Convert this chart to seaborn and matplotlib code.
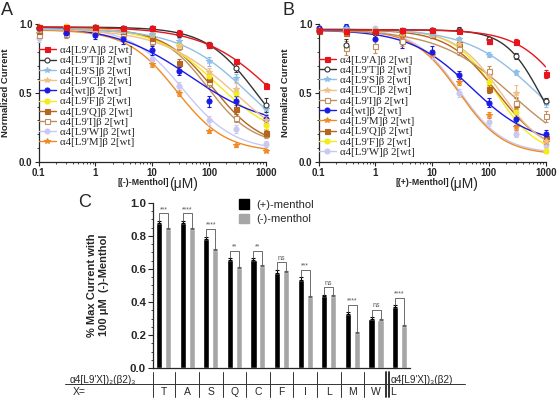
import numpy as np
import pandas as pd
import matplotlib
matplotlib.use("Agg")
import matplotlib.pyplot as plt
import matplotlib.transforms as mtransforms
from matplotlib.lines import Line2D
from matplotlib.patches import Patch
from matplotlib.ticker import MultipleLocator, LogLocator, NullFormatter
import seaborn as sns

CONC = [0.1, 0.3, 1, 3, 10, 30, 100, 300, 1000]

# ---- panel A: (-)-menthol, mean normalized current per concentration
A_L9A = [0.98, 0.98, 0.98, 0.97, 0.97, 0.94, 0.85, 0.73, 0.55]
A_L9T = [0.97, 0.97, 0.98, 0.97, 0.97, 0.93, 0.85, 0.68, 0.41]
A_L9S = [0.96, 0.97, 0.97, 0.95, 0.93, 0.88, 0.73, 0.61, 0.38]
A_L9C = [0.96, 0.97, 0.96, 0.95, 0.92, 0.84, 0.65, 0.53, 0.30]
A_WT = [0.97, 0.94, 0.92, 0.89, 0.81, 0.66, 0.44, 0.44, 0.31]
A_L9F = [0.98, 0.99, 0.98, 0.96, 0.93, 0.85, 0.62, 0.50, 0.27]
A_L9Q = [0.95, 0.95, 0.96, 0.95, 0.90, 0.72, 0.60, 0.38, 0.21]
A_L9I = [0.92, 0.93, 0.95, 0.94, 0.88, 0.84, 0.58, 0.32, 0.20]
A_L9W = [0.90, 0.95, 0.94, 0.90, 0.75, 0.55, 0.30, 0.24, 0.13]
A_L9M = [0.94, 0.93, 0.93, 0.90, 0.71, 0.50, 0.22, 0.12, 0.08]

A_L9A_ERR = [0.01, 0.01, 0.01, 0.01, 0.01, 0.02, 0.02, 0.02, 0.02]
A_L9T_ERR = [0.01, 0.01, 0.01, 0.01, 0.01, 0.02, 0.02, 0.03, 0.05]
A_L9S_ERR = [0.01, 0.01, 0.01, 0.01, 0.02, 0.02, 0.03, 0.03, 0.03]
A_L9C_ERR = [0.01, 0.01, 0.01, 0.01, 0.02, 0.02, 0.03, 0.04, 0.03]
A_WT_ERR = [0.02, 0.03, 0.03, 0.03, 0.03, 0.03, 0.04, 0.04, 0.03]
A_L9F_ERR = [0.01, 0.01, 0.01, 0.01, 0.02, 0.02, 0.03, 0.03, 0.03]
A_L9Q_ERR = [0.02, 0.02, 0.02, 0.02, 0.03, 0.03, 0.04, 0.03, 0.03]
A_L9I_ERR = [0.03, 0.03, 0.02, 0.02, 0.03, 0.03, 0.04, 0.03, 0.03]
A_L9W_ERR = [0.03, 0.02, 0.02, 0.02, 0.03, 0.03, 0.03, 0.03, 0.02]
A_L9M_ERR = [0.02, 0.02, 0.02, 0.02, 0.02, 0.02, 0.01, 0.01, 0.01]

A_ORDER = ["A", "T", "S", "C", "wt", "F", "Q", "I", "W", "M"]
# Hill fit parameters
A_TOP = [0.98, 0.98, 0.97, 0.97, 0.99, 0.98, 0.97, 0.96, 0.98, 0.96]
A_BOTTOM = [0.0, 0.0, 0.0, 0.0, 0.25, 0.15, 0.10, 0.12, 0.08, 0.07]
A_IC50 = [1520, 710, 535, 312, 47, 139, 118, 95, 34.5, 26.8]
A_SLOPE = [0.69, 0.96, 0.70, 0.65, 0.65, 0.80, 1.0, 1.1, 0.95, 1.0]

# ---- panel B: (+)-menthol
B_L9A = [0.96, 0.95, 0.95, 0.96, 0.96, 0.95, 0.88, 0.87, 0.64]
B_L9T = [0.95, 0.85, 0.94, 0.95, 0.96, 0.96, 0.89, 0.77, 0.44]
B_L9S = [0.96, 0.97, 0.96, 0.96, 0.93, 0.89, 0.78, 0.65, 0.43]
B_L9C = [0.96, 0.96, 0.96, 0.94, 0.92, 0.86, 0.62, 0.50, 0.15]
B_L9I = [0.96, 0.83, 0.84, 0.88, 0.93, 0.82, 0.66, 0.43, 0.33]
B_WT = [0.97, 0.98, 0.89, 0.87, 0.80, 0.63, 0.43, 0.31, 0.20]
B_L9M = [0.95, 0.94, 0.94, 0.92, 0.78, 0.58, 0.34, 0.25, 0.14]
B_L9Q = [0.95, 0.94, 0.95, 0.94, 0.92, 0.86, 0.53, 0.42, 0.17]
B_L9F = [0.97, 0.97, 0.96, 0.95, 0.92, 0.86, 0.58, 0.36, 0.08]
B_L9W = [0.95, 0.96, 0.97, 0.95, 0.78, 0.50, 0.29, 0.20, 0.12]

B_L9A_ERR = [0.01, 0.01, 0.01, 0.01, 0.01, 0.01, 0.02, 0.02, 0.03]
B_L9T_ERR = [0.01, 0.04, 0.02, 0.01, 0.01, 0.02, 0.02, 0.02, 0.02]
B_L9S_ERR = [0.01, 0.01, 0.01, 0.01, 0.02, 0.02, 0.02, 0.02, 0.03]
B_L9C_ERR = [0.01, 0.01, 0.01, 0.02, 0.02, 0.03, 0.04, 0.06, 0.03]
B_L9I_ERR = [0.02, 0.05, 0.05, 0.04, 0.03, 0.04, 0.04, 0.04, 0.04]
B_WT_ERR = [0.02, 0.02, 0.04, 0.04, 0.04, 0.03, 0.03, 0.04, 0.03]
B_L9M_ERR = [0.01, 0.01, 0.01, 0.02, 0.02, 0.02, 0.02, 0.02, 0.02]
B_L9Q_ERR = [0.01, 0.01, 0.01, 0.02, 0.02, 0.03, 0.03, 0.04, 0.03]
B_L9F_ERR = [0.01, 0.01, 0.01, 0.01, 0.02, 0.02, 0.03, 0.03, 0.02]
B_L9W_ERR = [0.01, 0.01, 0.01, 0.02, 0.03, 0.03, 0.03, 0.02, 0.02]

B_ORDER = ["A", "T", "S", "C", "I", "wt", "M", "Q", "F", "W"]
B_TOP = [0.96, 0.96, 0.97, 0.96, 0.96, 0.96, 0.96, 0.96, 0.96, 0.97]
B_BOTTOM = [0.0, 0.0, 0.0, 0.05, 0.0, 0.12, 0.05, 0.05, 0.05, 0.06]
B_IC50 = [2560, 830, 770, 160, 265, 48.6, 29.5, 139, 132, 30]
B_SLOPE = [1.0, 1.37, 0.70, 1.1, 0.66, 0.80, 1.1, 1.0, 1.18, 1.1]

# ---- panel C: fraction of max current with 100 uM menthol
GROUPS = ["T", "A", "S", "Q", "C", "F", "I", "L", "M", "W", "L3"]
X_LETTERS = ["T", "A", "S", "Q", "C", "F", "I", "L", "M", "W", "L"]
PLUS = [0.88, 0.88, 0.78, 0.655, 0.655, 0.575, 0.535, 0.435, 0.33, 0.30, 0.37]
MINUS = [0.84, 0.84, 0.715, 0.605, 0.62, 0.58, 0.43, 0.435, 0.215, 0.29, 0.255]
PLUS_ERR = [0.010, 0.010, 0.015, 0.010, 0.010, 0.020, 0.015, 0.010, 0.010, 0.010, 0.010]
MINUS_ERR = [0.005, 0.005, 0.005, 0.005, 0.005, 0.005, 0.005, 0.005, 0.005, 0.005, 0.005]
SIG = ["***", "****", "****", "**", "**", "ns", "***", "ns", "****", "ns", "****"]

# colour, marker, filled
STYLE = {
    "A": ("#e8141c", "s", True),
    "T": ("#333333", "o", False),
    "S": ("#8fbfe8", "*", True),
    "C": ("#f0c08a", "*", True),
    "wt": ("#1a1ae6", "o", True),
    "F": ("#f2ec1a", "o", True),
    "Q": ("#b5651d", "s", True),
    "I": ("#c09060", "s", False),
    "W": ("#c8c8f2", "o", True),
    "M": ("#f08a24", "*", True),
}

SANS = ["Liberation Sans", "DejaVu Sans"]
SERIF = ["Liberation Serif", "DejaVu Serif"]


def series_label(name: str) -> str:
    if name == "wt":
        return "\u03b14[wt]\u03b2 2[wt]"
    return f"\u03b14[L9'{name}]\u03b2 2[wt]"


def marker_size(marker: str) -> float:
    return 4.2 if marker == "*" else 3.6


def dose_panel(ax, order, values, errors, tops, bottoms, ic50s, slopes, drug, legend_y):
    grid = np.logspace(-1, 3, 200)
    rows = []
    for name, top, bottom, ic50, slope in zip(order, tops, bottoms, ic50s, slopes):
        resp = bottom + (top - bottom) / (1 + (grid / ic50) ** slope)
        rows.append(pd.DataFrame({"conc": grid, "resp": resp, "series": name}))
    curves = pd.concat(rows, ignore_index=True)
    palette = {name: STYLE[name][0] for name in order}
    sns.lineplot(
        data=curves, x="conc", y="resp", hue="series", hue_order=order[::-1],
        palette=palette, linewidth=1.0, estimator=None, legend=False, ax=ax,
    )
    for name in order[::-1]:
        color, marker, filled = STYLE[name]
        ax.errorbar(
            CONC, values[name], yerr=errors[name], fmt=marker, color=color,
            mfc=color if filled else "white", mec=color, ms=marker_size(marker),
            mew=0.8, capsize=1.5, elinewidth=0.8, capthick=0.8, clip_on=False, zorder=3,
        )
    ax.set_xscale("log")
    ax.set_xlim(0.1, 1000)
    ax.set_ylim(0, 1.0)
    ax.set_xticks([0.1, 1, 10, 100, 1000], labels=["0.1", "1", "10", "100", "1000"])
    ax.xaxis.set_minor_locator(LogLocator(subs=np.arange(2, 10)))
    ax.xaxis.set_minor_formatter(NullFormatter())
    ax.set_yticks([0.0, 0.5, 1.0], labels=["0.0", "0.5", "1.0"])
    ax.yaxis.set_minor_locator(MultipleLocator(0.1))
    ax.tick_params(which="major", length=3, width=0.8, labelsize=7, pad=1.5)
    ax.tick_params(which="minor", length=1.5, width=0.6)
    for lab in ax.get_xticklabels() + ax.get_yticklabels():
        lab.set_fontweight("bold")
    ax.set_xlabel("")
    ax.set_ylabel("Normalized Current", fontsize=6.8, fontweight="bold")
    ax.yaxis.set_label_coords(-0.125, 0.5)
    ax.text(0.574, -0.155, f"[({drug})-Menthol]", transform=ax.transAxes, ha="right",
            va="center", fontsize=6.3, fontweight="bold")
    ax.text(0.574, -0.16, "(\u03bcM)", transform=ax.transAxes, ha="left",
            va="center", fontsize=10)
    handles = []
    for name in order:
        color, marker, filled = STYLE[name]
        handles.append(Line2D([0], [0], color=color, marker=marker, lw=1.0,
                              mfc=color if filled else "white", mec=color,
                              ms=marker_size(marker), mew=0.8))
    ax.legend(handles, [series_label(n) for n in order], loc="upper left",
              bbox_to_anchor=(0.0, legend_y), frameon=False, borderpad=0,
              borderaxespad=0, handlelength=1.6, handletextpad=0.4,
              labelspacing=0.06, prop={"family": SERIF, "size": 7.8})
    sns.despine(ax=ax)


sns.set_theme(style="ticks")
plt.rcParams["font.family"] = SANS
plt.rcParams["axes.linewidth"] = 0.9

fig = plt.figure(figsize=(5.58, 4.08), dpi=100)
ax_a = fig.add_axes([0.0694, 0.6037, 0.4068, 0.3368])
ax_b = fig.add_axes([0.5711, 0.6037, 0.4068, 0.3368])
ax_c = fig.add_axes([0.2742, 0.0973, 0.4606, 0.4059])

a_values = {"A": A_L9A, "T": A_L9T, "S": A_L9S, "C": A_L9C, "wt": A_WT,
            "F": A_L9F, "Q": A_L9Q, "I": A_L9I, "W": A_L9W, "M": A_L9M}
a_errors = {"A": A_L9A_ERR, "T": A_L9T_ERR, "S": A_L9S_ERR, "C": A_L9C_ERR, "wt": A_WT_ERR,
            "F": A_L9F_ERR, "Q": A_L9Q_ERR, "I": A_L9I_ERR, "W": A_L9W_ERR, "M": A_L9M_ERR}
b_values = {"A": B_L9A, "T": B_L9T, "S": B_L9S, "C": B_L9C, "I": B_L9I,
            "wt": B_WT, "M": B_L9M, "Q": B_L9Q, "F": B_L9F, "W": B_L9W}
b_errors = {"A": B_L9A_ERR, "T": B_L9T_ERR, "S": B_L9S_ERR, "C": B_L9C_ERR, "I": B_L9I_ERR,
            "wt": B_WT_ERR, "M": B_L9M_ERR, "Q": B_L9Q_ERR, "F": B_L9F_ERR, "W": B_L9W_ERR}

dose_panel(ax_a, A_ORDER, a_values, a_errors, A_TOP, A_BOTTOM, A_IC50, A_SLOPE, "-", 0.845)
dose_panel(ax_b, B_ORDER, b_values, b_errors, B_TOP, B_BOTTOM, B_IC50, B_SLOPE, "+", 0.775)

# ---- panel C bars
bar_df = pd.DataFrame({
    "group": GROUPS * 2,
    "value": PLUS + MINUS,
    "drug": ["(+)-menthol"] * len(GROUPS) + ["(-)-menthol"] * len(GROUPS),
})
bar_colors = {"(+)-menthol": "#000000", "(-)-menthol": "#a6a6a6"}
sns.barplot(data=bar_df, x="group", y="value", hue="drug", order=GROUPS,
            hue_order=["(+)-menthol", "(-)-menthol"], palette=bar_colors,
            width=0.76, gap=0.32, errorbar=None, legend=False, saturation=1, ax=ax_c)

pos = np.arange(len(GROUPS))
ax_c.errorbar(pos - 0.19, PLUS, yerr=[np.zeros(len(PLUS)), PLUS_ERR], fmt="none",
              ecolor="black", elinewidth=0.8, capsize=1.5, capthick=0.8)
ax_c.errorbar(pos + 0.19, MINUS, yerr=[np.zeros(len(MINUS)), MINUS_ERR], fmt="none",
              ecolor="#666666", elinewidth=0.8, capsize=1.5, capthick=0.8)
for i, sig in enumerate(SIG):
    xb, xg = i - 0.19, i + 0.19
    y1 = PLUS[i] + PLUS_ERR[i]
    y2 = MINUS[i] + MINUS_ERR[i]
    h = max(y1, y2) + 0.045
    ax_c.plot([xb, xb, xg, xg], [y1, h, h, y2], color="#555555", lw=0.6)
    ax_c.text(i, h + 0.003, sig, ha="center", va="bottom", fontsize=5, color="#555555")

ax_c.set_xlim(-0.445, 10.44)
ax_c.set_ylim(0, 1.0)
ax_c.set_xticks([])
ax_c.set_xlabel("")
ax_c.set_yticks(np.arange(0, 1.01, 0.2), labels=[f"{v:.1f}" for v in np.arange(0, 1.01, 0.2)])
ax_c.yaxis.set_minor_locator(MultipleLocator(0.05))
ax_c.tick_params(axis="y", which="major", length=3.5, width=0.8, labelsize=8.2, pad=1.5)
ax_c.tick_params(axis="y", which="minor", length=1.8, width=0.6)
for lab in ax_c.get_yticklabels():
    lab.set_fontweight("bold")
ax_c.set_ylabel("% Max Current with\n100 \u03bcM  (-)-Menthol", fontsize=8, fontweight="bold",
                linespacing=1.3)
ax_c.yaxis.set_label_coords(-0.17, 0.5)
sns.despine(ax=ax_c)

ax_c.legend([Patch(color="#000000"), Patch(color="#a6a6a6")], ["(+)-menthol", "(-)-menthol"],
            loc="upper left", bbox_to_anchor=(0.335, 1.02), frameon=False, fontsize=8,
            handlelength=0.9, handleheight=0.9, handletextpad=0.6, labelspacing=0.35,
            borderpad=0, borderaxespad=0)

# table below the bars
blend = mtransforms.blended_transform_factory(ax_c.transData, ax_c.transAxes)
for b in [-0.445] + [i + 0.5 for i in range(9)]:
    ax_c.plot([b, b], [-0.02, -0.171], transform=blend, color="#333333", lw=0.7, clip_on=False)
for b in [9.43, 9.53]:
    ax_c.plot([b, b], [-0.02, -0.171], transform=blend, color="#222222", lw=1.3, clip_on=False)
ax_c.plot([-0.342, 1.214], [-0.097, -0.097], transform=ax_c.transAxes, color="#333333",
          lw=0.7, clip_on=False)
for i, letter in enumerate(X_LETTERS):
    x = i if i < 10 else i - 0.27
    ax_c.text(x, -0.143, letter, transform=blend, ha="center", va="center", fontsize=7.5)
ax_c.text(-0.323, -0.068, "\u03b14[L9'X])\u2082(\u03b22)\u2083", transform=ax_c.transAxes,
          ha="left", va="center", fontsize=7.2)
ax_c.text(-0.311, -0.143, "X=", transform=ax_c.transAxes, ha="left", va="center", fontsize=7.5)
ax_c.text(0.925, -0.068, "\u03b14[L9'X])\u2083(\u03b22)", transform=ax_c.transAxes,
          ha="left", va="center", fontsize=7.2)

# panel letters
fig.text(0.002, 0.995, "A", fontsize=13, va="top", ha="left")
fig.text(0.507, 0.995, "B", fontsize=13, va="top", ha="left")
fig.text(0.14, 0.525, "C", fontsize=13, va="top", ha="left")

fig.savefig("out.png", dpi=100)
